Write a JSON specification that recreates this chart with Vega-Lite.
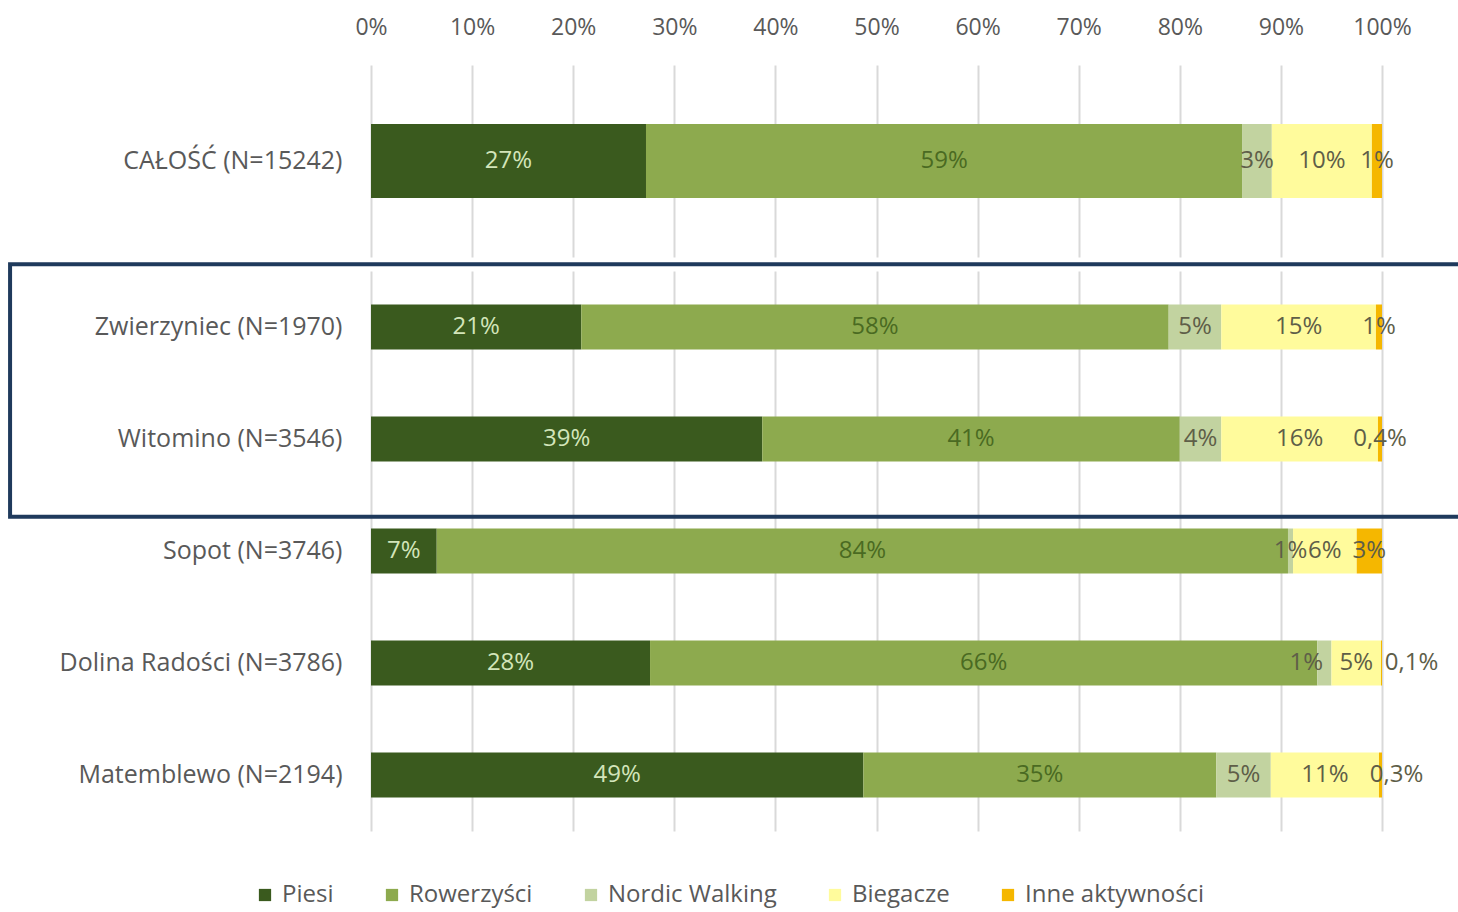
{
  "$schema": "https://vega.github.io/schema/vega-lite/v6.json",
  "background": "white",
  "padding": {"left": 8, "top": 16, "right": 0, "bottom": 8},
  "bounds": "flush",
  "spacing": 14,
  "config": {
    "view": {"stroke": null},
    "font": "Open Sans",
    "axis": {"domain": false, "ticks": false, "title": null, "labelFont": "Open Sans", "labelColor": "#595959"},
    "axisX": {"grid": true, "gridColor": "#D9D9D9", "gridWidth": 2, "labelFontSize": 23, "labelPadding": 26, "labelFlush": false},
    "axisY": {"grid": false, "labelFontSize": 25, "labelPadding": 29, "labelLimit": 400}
  },
  "datasets": {
    "total": [
      {"area": "CAŁOŚĆ (N=15242)", "group": "Piesi", "ord": 1, "share": 0.272, "label": "27%"},
      {"area": "CAŁOŚĆ (N=15242)", "group": "Rowerzyści", "ord": 2, "share": 0.590, "label": "59%"},
      {"area": "CAŁOŚĆ (N=15242)", "group": "Nordic Walking", "ord": 3, "share": 0.029, "label": "3%"},
      {"area": "CAŁOŚĆ (N=15242)", "group": "Biegacze", "ord": 4, "share": 0.099, "label": "10%"},
      {"area": "CAŁOŚĆ (N=15242)", "group": "Inne aktywności", "ord": 5, "share": 0.010, "label": "1%"}
    ],
    "regions": [
      {"area": "Zwierzyniec (N=1970)", "group": "Piesi", "ord": 1, "share": 0.208, "label": "21%"},
      {"area": "Zwierzyniec (N=1970)", "group": "Rowerzyści", "ord": 2, "share": 0.581, "label": "58%"},
      {"area": "Zwierzyniec (N=1970)", "group": "Nordic Walking", "ord": 3, "share": 0.052, "label": "5%"},
      {"area": "Zwierzyniec (N=1970)", "group": "Biegacze", "ord": 4, "share": 0.153, "label": "15%"},
      {"area": "Zwierzyniec (N=1970)", "group": "Inne aktywności", "ord": 5, "share": 0.006, "label": "1%"},
      {"area": "Witomino (N=3546)", "group": "Piesi", "ord": 1, "share": 0.387, "label": "39%"},
      {"area": "Witomino (N=3546)", "group": "Rowerzyści", "ord": 2, "share": 0.413, "label": "41%"},
      {"area": "Witomino (N=3546)", "group": "Nordic Walking", "ord": 3, "share": 0.041, "label": "4%"},
      {"area": "Witomino (N=3546)", "group": "Biegacze", "ord": 4, "share": 0.155, "label": "16%"},
      {"area": "Witomino (N=3546)", "group": "Inne aktywności", "ord": 5, "share": 0.004, "label": "0,4%"},
      {"area": "Sopot (N=3746)", "group": "Piesi", "ord": 1, "share": 0.065, "label": "7%"},
      {"area": "Sopot (N=3746)", "group": "Rowerzyści", "ord": 2, "share": 0.842, "label": "84%"},
      {"area": "Sopot (N=3746)", "group": "Nordic Walking", "ord": 3, "share": 0.005, "label": "1%"},
      {"area": "Sopot (N=3746)", "group": "Biegacze", "ord": 4, "share": 0.063, "label": "6%"},
      {"area": "Sopot (N=3746)", "group": "Inne aktywności", "ord": 5, "share": 0.025, "label": "3%"},
      {"area": "Dolina Radości (N=3786)", "group": "Piesi", "ord": 1, "share": 0.276, "label": "28%"},
      {"area": "Dolina Radości (N=3786)", "group": "Rowerzyści", "ord": 2, "share": 0.660, "label": "66%"},
      {"area": "Dolina Radości (N=3786)", "group": "Nordic Walking", "ord": 3, "share": 0.014, "label": "1%"},
      {"area": "Dolina Radości (N=3786)", "group": "Biegacze", "ord": 4, "share": 0.049, "label": "5%"},
      {"area": "Dolina Radości (N=3786)", "group": "Inne aktywności", "ord": 5, "share": 0.001, "label": "0,1%"},
      {"area": "Matemblewo (N=2194)", "group": "Piesi", "ord": 1, "share": 0.487, "label": "49%"},
      {"area": "Matemblewo (N=2194)", "group": "Rowerzyści", "ord": 2, "share": 0.349, "label": "35%"},
      {"area": "Matemblewo (N=2194)", "group": "Nordic Walking", "ord": 3, "share": 0.054, "label": "5%"},
      {"area": "Matemblewo (N=2194)", "group": "Biegacze", "ord": 4, "share": 0.107, "label": "11%"},
      {"area": "Matemblewo (N=2194)", "group": "Inne aktywności", "ord": 5, "share": 0.003, "label": "0,3%"}
    ]
  },
  "vconcat": [
    {
      "data": {"name": "total"},
      "width": 1011,
      "height": 192,
      "layer": [
        {
          "mark": {"type": "bar", "size": 74},
          "encoding": {
            "y": {"field": "area", "type": "nominal", "scale": {"domain": ["CAŁOŚĆ (N=15242)"], "paddingInner": 0, "paddingOuter": 0}},
            "x": {"field": "share", "type": "quantitative", "stack": "zero", "scale": {"domain": [0, 1]},
                  "axis": {"orient": "top", "format": ".0%", "values": [0, 0.1, 0.2, 0.3, 0.4, 0.5, 0.6, 0.7, 0.8, 0.9, 1]}},
            "color": {"field": "group", "type": "nominal",
                      "scale": {"domain": ["Piesi", "Rowerzyści", "Nordic Walking", "Biegacze", "Inne aktywności"],
                                "range": ["#3A5A1E", "#8DAA4E", "#C2D3A0", "#FFFB9C", "#F5B700"]},
                      "legend": {"orient": "none", "legendX": -118, "legendY": 818, "direction": "horizontal",
                                 "symbolType": "square", "symbolSize": 150, "symbolStrokeWidth": 0,
                                 "labelFontSize": 24, "labelColor": "#595959", "labelFont": "Open Sans", "labelLimit": 400,
                                 "columnPadding": 46, "labelOffset": 5, "title": null}},
            "order": {"field": "ord", "type": "quantitative"}
          }
        },
        {
          "transform": [
            {"stack": "share", "groupby": ["area"], "sort": [{"field": "ord"}], "as": ["s0", "s1"]},
            {"fold": ["s0", "s1"], "as": ["edge", "pos"]},
            {"aggregate": [{"op": "mean", "field": "pos", "as": "mid"}], "groupby": ["area", "group", "label", "ord"]}
          ],
          "mark": {"type": "text", "fontSize": 24, "font": "Open Sans"},
          "encoding": {
            "y": {"field": "area", "type": "nominal"},
            "x": {"field": "mid", "type": "quantitative"},
            "text": {"field": "label"},
            "color": {"condition": [
              {"test": "datum.group === 'Piesi'", "value": "#D3E5BA"},
              {"test": "datum.group === 'Rowerzyści'", "value": "#4A6A22"}
            ], "value": "#5E5E48"}
          }
        }
      ]
    },
    {
      "data": {"name": "regions"},
      "width": 1011,
      "height": 560,
      "transform": [
        {"stack": "share", "groupby": ["area"], "sort": [{"field": "ord"}], "as": ["s0", "s1"]}
      ],
      "layer": [
        {
          "mark": {"type": "bar", "size": 45},
          "encoding": {
            "y": {"field": "area", "type": "nominal",
                  "scale": {"domain": ["Zwierzyniec (N=1970)", "Witomino (N=3546)", "Sopot (N=3746)", "Dolina Radości (N=3786)", "Matemblewo (N=2194)"], "paddingInner": 0, "paddingOuter": 0}},
            "x": {"field": "s0", "type": "quantitative", "scale": {"domain": [0, 1]},
                  "axis": {"labels": false, "values": [0, 0.1, 0.2, 0.3, 0.4, 0.5, 0.6, 0.7, 0.8, 0.9, 1]}},
            "x2": {"field": "s1"},
            "color": {"field": "group", "type": "nominal",
                      "scale": {"domain": ["Piesi", "Rowerzyści", "Nordic Walking", "Biegacze", "Inne aktywności"],
                                "range": ["#3A5A1E", "#8DAA4E", "#C2D3A0", "#FFFB9C", "#F5B700"]}}
          }
        },
        {
          "transform": [
            {"fold": ["s0", "s1"], "as": ["edge", "pos"]},
            {"aggregate": [{"op": "mean", "field": "pos", "as": "mid"}], "groupby": ["area", "group", "label", "ord"]}
          ],
          "layer": [
            {
              "transform": [{"filter": "!(datum.area === 'Dolina Radości (N=3786)' && (datum.ord === 3 || datum.ord === 5)) && !(datum.area === 'Matemblewo (N=2194)' && datum.ord === 5)"}],
              "mark": {"type": "text", "fontSize": 24, "font": "Open Sans"}
            },
            {
              "transform": [{"filter": "datum.area === 'Dolina Radości (N=3786)' && datum.ord === 3"}],
              "mark": {"type": "text", "fontSize": 24, "font": "Open Sans", "dx": -18}
            },
            {
              "transform": [{"filter": "datum.area === 'Dolina Radości (N=3786)' && datum.ord === 5"}],
              "mark": {"type": "text", "fontSize": 24, "font": "Open Sans", "dx": 30}
            },
            {
              "transform": [{"filter": "datum.area === 'Matemblewo (N=2194)' && datum.ord === 5"}],
              "mark": {"type": "text", "fontSize": 24, "font": "Open Sans", "dx": 16}
            }
          ],
          "encoding": {
            "y": {"field": "area", "type": "nominal"},
            "x": {"field": "mid", "type": "quantitative"},
            "text": {"field": "label"},
            "color": {"condition": [
              {"test": "datum.group === 'Piesi'", "value": "#D3E5BA"},
              {"test": "datum.group === 'Rowerzyści'", "value": "#4A6A22"}
            ], "value": "#5E5E48"}
          }
        },
        {
          "data": {"values": [{}]},
          "mark": {"type": "rect", "fill": "white", "fillOpacity": 0, "stroke": "#1F3A5C", "strokeWidth": 4, "clip": false},
          "encoding": {
            "x": {"datum": -0.357, "type": "quantitative"},
            "x2": {"datum": 1.1},
            "y": {"datum": "Zwierzyniec (N=1970)", "type": "nominal", "bandPosition": -0.06},
            "y2": {"datum": "Sopot (N=3746)", "bandPosition": 0.195}
          }
        }
      ]
    }
  ]
}
